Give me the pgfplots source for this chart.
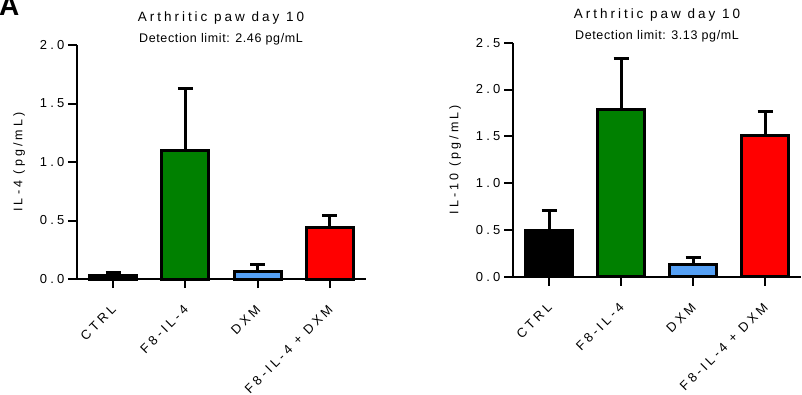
\documentclass[border=0pt]{standalone}
\usepackage{fontspec}
\setmainfont{Liberation Sans}
\newfontfamily\spaced[LetterSpace=25]{Liberation Sans}
\newfontfamily\tspaced[LetterSpace=22]{Liberation Sans}
\newfontfamily\dspaced[LetterSpace=5]{Liberation Sans}
\usepackage{pgfplots}
\pgfplotsset{compat=1.18}
\definecolor{cgreen}{RGB}{0,128,0}
\definecolor{cblue}{RGB}{85,160,245}
\definecolor{cred}{RGB}{255,0,0}
\pgfplotsset{
  mybars/.style={
    scale only axis, height=234pt, anchor=south west,
    axis x line=bottom, axis y line=left,
    axis line style={line width=2pt,-},
    xmin=-0.5, xmax=3.5, ymin=0,
    xtick={0,1,2,3},
    xticklabels={CTRL,F8-IL-4,DXM,F8-IL-4 + DXM},
    tick align=outside, major tick length=9pt,
    tick style={line width=2pt, black},
    xticklabel style={yshift=-17pt, xshift=3pt, rotate=45, anchor=east, font=\spaced\fontsize{13}{15}\selectfont},
    yticklabel style={font=\spaced\fontsize{13}{15}\selectfont, /pgf/number format/fixed, /pgf/number format/fixed zerofill, /pgf/number format/precision=1},
    /pgf/number format/assume math mode=true,
    ylabel style={font=\spaced\fontsize{12.5}{14}\selectfont, yshift=8pt},
    clip=false,
  },
  bb/.style={ybar, bar shift=0pt, bar width=47pt, draw=black, line width=3pt, fill=#1,
    error bars/.cd, y dir=plus, y explicit,
    error bar style={line width=3pt, black},
    error mark options={rotate=90, mark size=7.5pt, line width=3pt, black}},
}
\begin{document}
\begin{tikzpicture}[x=1pt,y=1pt]
\begin{axis}[mybars, at={(77pt,115pt)}, width=289pt, ymax=2.0, ytick={0,0.5,1.0,1.5,2.0},
  ylabel={IL-4 (pg/mL)}]
\addplot[bb=black] coordinates {(0,0.03) +- (0,0.025)};
\addplot[bb=cgreen] coordinates {(1,1.10) +- (0,0.53)};
\addplot[bb=cblue] coordinates {(2,0.06) +- (0,0.06)};
\addplot[bb=cred] coordinates {(3,0.44) +- (0,0.10)};
\end{axis}
\begin{axis}[mybars, at={(513pt,117.3pt)}, width=288pt, ymax=2.5, ytick={0,0.5,1.0,1.5,2.0,2.5},
  ylabel={IL-10 (pg/mL)}]
\addplot[bb=black] coordinates {(0,0.49) +- (0,0.22)};
\addplot[bb=cgreen] coordinates {(1,1.79) +- (0,0.54)};
\addplot[bb=cblue] coordinates {(2,0.13) +- (0,0.08)};
\addplot[bb=cred] coordinates {(3,1.51) +- (0,0.25)};
\end{axis}
\node[anchor=base, font=\tspaced\fontsize{13.5}{16}\selectfont] at (221pt,372pt) {Arthritic paw day 10};
\node[anchor=base, font=\dspaced\fontsize{12.5}{14}\selectfont] at (221pt,351pt) {Detection limit: 2.46 pg/mL};
\node[anchor=base, font=\tspaced\fontsize{13.5}{16}\selectfont] at (657pt,375pt) {Arthritic paw day 10};
\node[anchor=base, font=\dspaced\fontsize{12.5}{14}\selectfont] at (657pt,354.5pt) {Detection limit: 3.13 pg/mL};
\node[anchor=north west, inner sep=0pt, font=\bfseries\fontsize{28}{28}\selectfont] at (-1pt,398pt) {A};
\pgfresetboundingbox
\path[use as bounding box] (0,0) rectangle (802pt,394pt);
\end{tikzpicture}
\end{document}
